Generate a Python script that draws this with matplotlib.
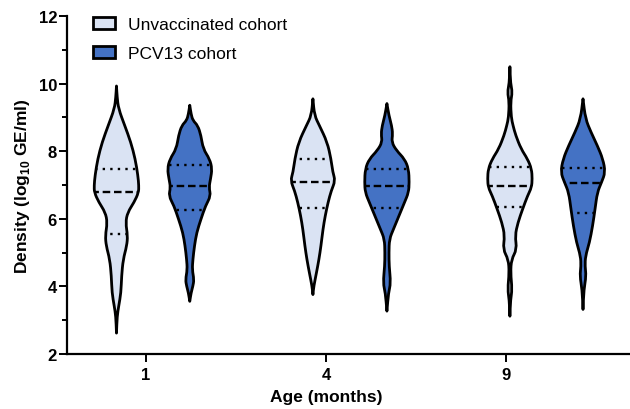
import matplotlib
matplotlib.use("Agg")
import matplotlib.pyplot as plt
from matplotlib.path import Path
from matplotlib.patches import PathPatch, Patch
import numpy as np

plt.rcParams["font.family"] = ["Liberation Sans", "DejaVu Sans"]
plt.rcParams["mathtext.fontset"] = "custom"
plt.rcParams["mathtext.rm"] = "Liberation Sans"
plt.rcParams["mathtext.bf"] = "Liberation Sans:bold"

# categories
ages = ["1", "4", "9"]
groups = ["Unvaccinated cohort", "PCV13 cohort"]

# violin outlines: y levels (log10 GE/ml) and relative density
unvac_levels = [
    [9.93, 9.6, 9.26, 8.76, 8.27, 7.77, 7.28, 6.98, 6.78, 6.49, 6.19, 5.89, 5.5, 5.2, 4.8, 4.31, 3.81, 3.42, 3.12, 2.62],
    [9.55, 9.06, 8.76, 8.27, 7.77, 7.38, 7.13, 6.83, 6.49, 6.09, 5.69, 5.2, 4.8, 4.41, 4.01, 3.76],
    [10.5, 10.0, 9.75, 9.46, 9.0, 8.76, 8.47, 8.07, 7.77, 7.48, 7.18, 6.93, 6.68, 6.29, 5.89, 5.5, 5.1, 4.8, 4.41, 3.91, 3.61, 3.12],
]
unvac_density = [
    [0, 0.03, 0.09, 0.37, 0.64, 0.84, 0.96, 1.0, 0.99, 0.79, 0.5, 0.41, 0.5, 0.46, 0.3, 0.23, 0.2, 0.1, 0.03, 0],
    [0, 0.07, 0.29, 0.64, 0.81, 0.89, 1.0, 0.82, 0.68, 0.55, 0.45, 0.36, 0.27, 0.16, 0.04, 0],
    [0, 0.03, 0.11, 0.03, 0.06, 0.14, 0.26, 0.5, 0.79, 0.97, 1.0, 0.97, 0.79, 0.57, 0.36, 0.23, 0.31, 0.07, 0.03, 0.1, 0.03, 0],
]
pcv_levels = [
    [9.36, 9.1, 8.91, 8.76, 8.47, 8.07, 7.77, 7.48, 7.18, 6.93, 6.68, 6.39, 5.99, 5.59, 5.2, 4.8, 4.5, 4.2, 4.01, 3.81, 3.56],
    [9.41, 9.06, 8.76, 8.51, 8.27, 8.02, 7.77, 7.48, 7.08, 6.78, 6.49, 6.09, 5.69, 5.4, 5.0, 4.6, 4.1, 3.81, 3.27],
    [9.55, 8.96, 8.56, 8.17, 7.77, 7.38, 7.08, 6.78, 6.29, 5.79, 5.3, 4.9, 4.6, 4.31, 3.91, 3.32],
]
pcv_density = [
    [0, 0.06, 0.14, 0.36, 0.5, 0.6, 0.89, 1.0, 0.93, 0.86, 0.94, 0.71, 0.5, 0.31, 0.21, 0.14, 0.11, 0.19, 0.14, 0.06, 0],
    [0, 0.09, 0.21, 0.26, 0.21, 0.43, 0.79, 0.97, 1.0, 0.97, 0.79, 0.54, 0.29, 0.11, 0.09, 0.1, 0.17, 0.07, 0],
    [0, 0.11, 0.36, 0.64, 0.89, 1.0, 0.83, 0.64, 0.54, 0.43, 0.29, 0.11, 0.09, 0.14, 0.04, 0],
]

# quartiles (Q1, median, Q3)
unvac_q1 = [5.55, 6.31, 6.36]
unvac_median = [6.78, 7.08, 6.96]
unvac_q3 = [7.46, 7.77, 7.52]
pcv_q1 = [6.26, 6.32, 6.17]
pcv_median = [6.98, 6.96, 7.06]
pcv_q3 = [7.60, 7.46, 7.50]

# layout
unvac_pos = [-0.163, 0.928, 2.022]
pcv_pos = [0.244, 1.339, 2.428]
half_width = 0.124
light = "#dae3f3"
dark = "#4472c4"


def violin_path(x0, levels, dens):
    ys = np.asarray(levels)
    ws = np.asarray(dens) * half_width
    right = list(zip(x0 + ws, ys))
    left = list(zip(x0 - ws[::-1], ys[::-1]))[1:-1]
    top, bottom = right[0], right[-1]
    pts = [top, top] + right[1:-1] + [bottom, bottom] + left
    pts = np.array(pts)
    n = len(pts)
    mids = (pts + np.roll(pts, -1, axis=0)) / 2
    verts = [mids[-1]]
    codes = [Path.MOVETO]
    for i in range(n):
        verts += [pts[i], mids[i]]
        codes += [Path.CURVE3, Path.CURVE3]
    verts.append(mids[-1])
    codes.append(Path.CLOSEPOLY)
    return Path(verts, codes)


fig = plt.figure(figsize=(6.3, 4.1), dpi=100)
ax = fig.add_axes([0.106, 0.134, 0.894, 0.8245])

for pos, lev, den, q1, md, q3, color in (
    list(zip(unvac_pos, unvac_levels, unvac_density, unvac_q1, unvac_median, unvac_q3, [light] * 3))
    + list(zip(pcv_pos, pcv_levels, pcv_density, pcv_q1, pcv_median, pcv_q3, [dark] * 3))
):
    patch = PathPatch(violin_path(pos, lev, den), facecolor=color, edgecolor="black",
                      linewidth=2.0, joinstyle="round", zorder=2)
    ax.add_patch(patch)
    for yv, dashes in ((q1, (1, 2.2)), (q3, (1, 2.2)), (md, (3.2, 1.6))):
        ln, = ax.plot([pos - 0.2, pos + 0.2], [yv, yv], color="black", lw=1.7,
                      dashes=dashes, dash_capstyle="butt", zorder=3)
        ln.set_clip_path(patch)

ax.set_xlim(-0.439, 2.689)
ax.set_ylim(2, 12)
ax.set_xticks([0, 1, 2])
ax.set_xticklabels(ages, fontweight="bold", fontsize=12)
ax.set_yticks([2, 4, 6, 8, 10, 12])
ax.set_yticks([3, 5, 7, 9, 11], minor=True)
ax.set_yticklabels(["2", "4", "6", "8", "10", "12"], fontweight="bold", fontsize=12)
ax.tick_params(axis="y", which="major", length=6, width=1.4, pad=1)
ax.tick_params(axis="x", which="major", length=5.5, width=1.4, pad=4)
ax.tick_params(axis="y", which="minor", length=3.5, width=1.4)
for s in ("top", "right"):
    ax.spines[s].set_visible(False)
for s in ("left", "bottom"):
    ax.spines[s].set_linewidth(1.6)

ax.set_ylabel(r"Density (log$_{\mathbf{10}}$ GE/ml)", fontweight="bold", fontsize=12.5, labelpad=5)
ax.set_xlabel("Age (months)", fontweight="bold", fontsize=12.5, labelpad=5)
ax.xaxis.label.set_x(0.46)

handles = [Patch(facecolor=light, edgecolor="black", linewidth=2.0, label=groups[0]),
           Patch(facecolor=dark, edgecolor="black", linewidth=2.0, label=groups[1])]
ax.legend(handles=handles, loc="upper left", bbox_to_anchor=(0.018, 1.044), frameon=False,
          fontsize=12.5, handlelength=1.3, handleheight=0.7, handletextpad=0.75, labelspacing=0.82)

fig.savefig("out.png", dpi=100)
